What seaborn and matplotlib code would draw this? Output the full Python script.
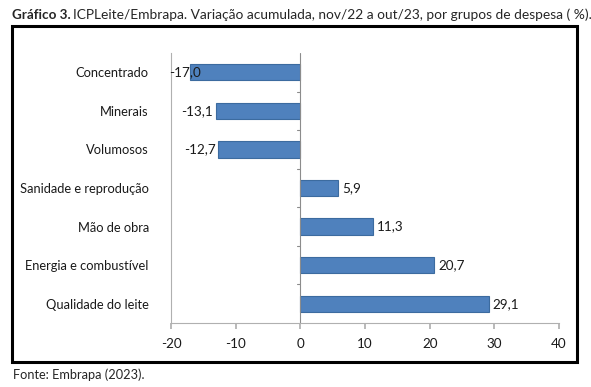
import matplotlib
matplotlib.use("Agg")
import matplotlib.pyplot as plt
import seaborn as sns
import pandas as pd
from matplotlib.patches import Rectangle

# dados do gráfico
grupos = ["Concentrado", "Minerais", "Volumosos", "Sanidade e reprodução",
          "Mão de obra", "Energia e combustível", "Qualidade do leite"]
variacao = [-17.0, -13.1, -12.7, 5.9, 11.3, 20.7, 29.1]
xticks = [-20, -10, 0, 10, 20, 30, 40]

sns.set_theme(style="white")
plt.rcParams['font.family'] = ['Lato', 'DejaVu Sans']

df = pd.DataFrame({"grupo": grupos, "variacao": variacao})

fs = 9.7
cor_txt = "#1a1a1a"

fig = plt.figure(figsize=(5.91, 3.87), dpi=100)
ax = fig.add_axes([171 / 591, 1 - 323 / 387, (559 - 171) / 591, (323 - 53) / 387])

sns.barplot(data=df, x="variacao", y="grupo", orient="h", ax=ax,
            color="#4F81BD", width=0.42, edgecolor="#3C6B9F", linewidth=0.8,
            saturation=1)

ax.set_xlim(-20, 40)
ax.set_ylim(len(grupos) - 0.5, -0.5)
ax.set_xticks(xticks)
ax.set_xticklabels([str(t) for t in xticks])
ax.set_xlabel("")
ax.set_ylabel("")

# eixo vertical em zero com marcas entre categorias
ax.axvline(0, color="#8C8C8C", lw=0.8, zorder=1)
for i in range(len(grupos) - 1):
    ax.plot([-0.55, 0], [i + 0.5, i + 0.5], color="#8C8C8C", lw=0.8,
            clip_on=False, zorder=1)

for s in ["top", "right"]:
    ax.spines[s].set_visible(False)
for s in ["left", "bottom"]:
    ax.spines[s].set_color("#B0B0B0")
    ax.spines[s].set_linewidth(0.8)

ax.tick_params(axis="x", bottom=True, length=4, color="#B0B0B0",
               labelsize=fs, labelcolor=cor_txt, pad=7)
ax.tick_params(axis="y", left=False, labelsize=9.3, labelcolor=cor_txt, pad=10)

# rótulos de valor (negativos que saem da área são empurrados para dentro, como no Excel)
renderer = fig.canvas.get_renderer()
ax_left = ax.get_window_extent(renderer).x0
for i, v in enumerate(variacao):
    txt = f"{v:.1f}".replace(".", ",")
    if v < 0:
        t = ax.text(v - 0.4, i, txt, ha="right", va="center", fontsize=fs, color=cor_txt, zorder=5)
        bb = t.get_window_extent(renderer)
        if bb.x0 < ax_left - 2:
            t.set_ha("left")
            t.set_x(ax.transData.inverted().transform((ax_left - 2, 0))[0])
    else:
        ax.text(v + 0.6, i, txt, ha="left", va="center", fontsize=fs, color=cor_txt)

# moldura
fig.patches.append(Rectangle((12 / 591, 1 - 362 / 387), (577 - 12) / 591, (362 - 26) / 387,
                             transform=fig.transFigure, fill=False, edgecolor="black",
                             linewidth=2.2))

fig.text(12 / 591, 1 - 15 / 387, "Gráfico 3.", fontsize=fs, fontweight="bold",
         ha="left", va="center")
fig.text(73 / 591, 1 - 15 / 387,
         "ICPLeite/Embrapa. Variação acumulada, nov/22 a out/23, por grupos de despesa ( %).",
         fontsize=9.9, ha="left", va="center")
fig.text(13 / 591, 1 - 375 / 387, "Fonte: Embrapa (2023).", fontsize=fs - 0.5,
         ha="left", va="center")

fig.savefig("out.png", dpi=100)
